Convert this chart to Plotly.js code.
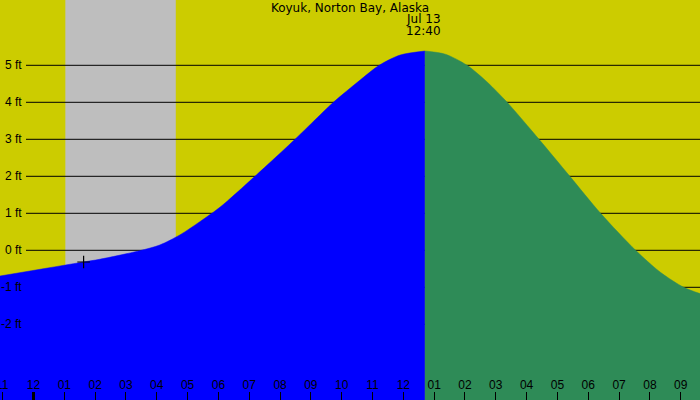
<!DOCTYPE html>
<html><head><meta charset="utf-8">
<script src="https://cdn.plot.ly/plotly-3.0.1.min.js"></script>
<style>html,body{margin:0;padding:0;background:#CCCC00}#chart{width:700px;height:400px}</style>
</head><body><div id="chart"></div>
<script>
// Hours relative to midnight Jul 13 (negative = Jul 12)
const riseHours = [-1.087, 1.626, 2.146, 3.446, 4.096, 4.746, 5.397, 6.047, 7.185, 8.485, 9.298, 9.730, 10.598, 11.216, 11.899, 12.700];
const riseFeet  = [-0.695, -0.316, -0.243, -0.011, 0.143, 0.414, 0.773, 1.162, 2.0, 3.0, 3.657, 4.0, 4.6, 5.0, 5.278, 5.386];
const fallHours = [12.700, 13.362, 14.068, 14.717, 15.368, 16.402, 17.403, 18.400, 19.538, 20.351, 21.099, 21.626];
const fallFeet  = [5.386, 5.30, 5.0, 4.55, 4.0, 3.0, 2.0, 1.0, 0.0, -0.60, -1.0, -1.17];
const nowHour = [1.626];
const nowFeet = [-0.316];
const nightStart = 1.033, nightEnd = 4.617;
const tickHours = [-1,0,1,2,3,4,5,6,7,8,9,10,11,12,13,14,15,16,17,18,19,20,21];
const tickText = ["11","12","01","02","03","04","05","06","07","08","09","10","11","12","01","02","03","04","05","06","07","08","09"];
const labelFeet = [5,4,3,2,1,0,-1,-2];
const gridLineFeet = [5,4,3,2,1,0,-1,-2];
const title = "Koyuk, Norton Bay, Alaska";
const peakHour = 12.667;
const peakDate = "Jul 13", peakTime = "12:40";

const xRange = [-1.087, 21.626];
const yRange = [-4.046, 6.765];
const titleFont = "DejaVu Sans, sans-serif";
const labelFont = "Liberation Sans, Arial, sans-serif";

const base = arr => arr.map(() => yRange[0]);
const traces = [
  {x: riseHours, y: base(riseHours), mode:'lines', line:{width:0}, hoverinfo:'skip', showlegend:false},
  {x: riseHours, y: riseFeet, mode:'lines', line:{shape:'spline', smoothing:0.8, color:'#0000FF', width:0.5}, fill:'tonexty', fillcolor:'#0000FF', showlegend:false},
  {x: fallHours, y: base(fallHours), mode:'lines', line:{width:0}, hoverinfo:'skip', showlegend:false},
  {x: fallHours, y: fallFeet, mode:'lines', line:{shape:'spline', smoothing:0.8, color:'#2E8B57', width:0.5}, fill:'tonexty', fillcolor:'#2E8B57', showlegend:false},
  {x: nowHour, y: nowFeet, mode:'markers', marker:{symbol:'cross-thin', size:9, line:{color:'#000', width:1.2}}, showlegend:false}
];

const shapes = [
  {type:'rect', xref:'x', yref:'paper', x0:nightStart, x1:nightEnd, y0:0, y1:1, fillcolor:'#BEBEBE', line:{width:0}, layer:'below'}
];
gridLineFeet.forEach(v => shapes.push({type:'line', xref:'paper', yref:'y', x0:26/700, x1:1, y0:v, y1:v, line:{color:'#000', width:1}, layer:'below'}));
shapes.push({type:'line', xref:'x', yref:'paper', x0:0, x1:0, y0:0, y1:8/400, line:{color:'#000', width:3}});

const annotations = labelFeet.map(v => ({xref:'paper', yref:'y', x:24/700, y:v, xanchor:'right', yanchor:'middle', text: v + ' ft', showarrow:false, font:{family:labelFont, size:12, color:'#000'}}));
annotations.push({xref:'x', yref:'paper', x:peakHour, y:1-19/400, xanchor:'center', yanchor:'middle', text:peakDate, showarrow:false, font:{family:titleFont, size:12, color:'#000'}});
annotations.push({xref:'x', yref:'paper', x:peakHour, y:1-31/400, xanchor:'center', yanchor:'middle', text:peakTime, showarrow:false, font:{family:titleFont, size:12, color:'#000'}});
// first (partially visible) hour label
annotations.push({xref:'x', yref:'paper', x:tickHours[0], y:15/400, xanchor:'center', yanchor:'middle', text:tickText[0], showarrow:false, font:{family:labelFont, size:12, color:'#000'}});

const layout = {
  width:700, height:400,
  margin:{l:0, r:0, t:0, b:0, pad:0},
  paper_bgcolor:'#CCCC00', plot_bgcolor:'#CCCC00',
  title:{text:title, x:0.5, xanchor:'center', y:1-8/400, yanchor:'middle', yref:'container', font:{family:titleFont, size:12, color:'#000'}},
  xaxis:{range:xRange, showgrid:false, zeroline:false, showline:false, tickmode:'array', tickvals:tickHours, ticktext:tickText, ticks:'inside', ticklen:8, tickwidth:1, tickcolor:'#000', ticklabelposition:'inside', tickfont:{family:labelFont, size:12, color:'#000'}, fixedrange:true},
  yaxis:{range:yRange, showgrid:false, zeroline:false, showline:false, showticklabels:false, ticks:'', fixedrange:true},
  shapes: shapes,
  annotations: annotations,
  showlegend:false
};
Plotly.newPlot('chart', traces, layout, {staticPlot:true, displayModeBar:false});
</script></body></html>
